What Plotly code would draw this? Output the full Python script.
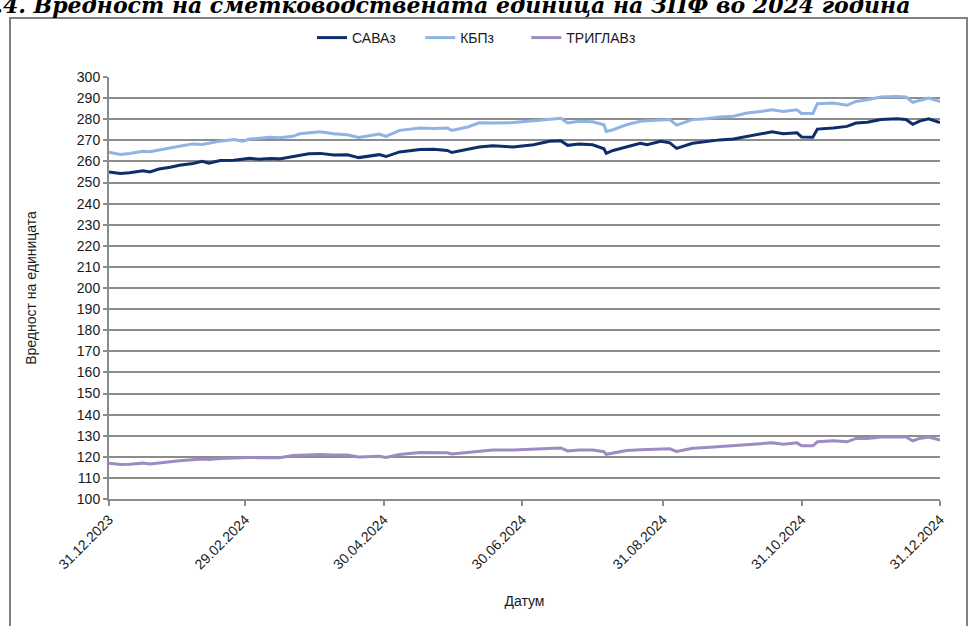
import plotly.graph_objects as go

dates = [
    "2023-12-31", "2024-01-05", "2024-01-09", "2024-01-15", "2024-01-18", "2024-01-22",
    "2024-01-27", "2024-01-31", "2024-02-06", "2024-02-10", "2024-02-13", "2024-02-18",
    "2024-02-24", "2024-02-28", "2024-03-02", "2024-03-06", "2024-03-11", "2024-03-15",
    "2024-03-21", "2024-03-24", "2024-03-28", "2024-04-02", "2024-04-08", "2024-04-14",
    "2024-04-19", "2024-04-28", "2024-05-01", "2024-05-07", "2024-05-16", "2024-05-22",
    "2024-05-28", "2024-05-30", "2024-06-06", "2024-06-11", "2024-06-17", "2024-06-26",
    "2024-07-05", "2024-07-12", "2024-07-17", "2024-07-20", "2024-07-25", "2024-07-31",
    "2024-08-05", "2024-08-06", "2024-08-09", "2024-08-15", "2024-08-21", "2024-08-24",
    "2024-08-30", "2024-09-03", "2024-09-06", "2024-09-13", "2024-09-19", "2024-09-25",
    "2024-10-01", "2024-10-07", "2024-10-13", "2024-10-18", "2024-10-23", "2024-10-29",
    "2024-10-31", "2024-11-05", "2024-11-07", "2024-11-14", "2024-11-20", "2024-11-24",
    "2024-11-29", "2024-12-05", "2024-12-12", "2024-12-16", "2024-12-19", "2024-12-22",
    "2024-12-26", "2024-12-31",
]

sava = [
    255.0, 254.3, 254.6, 255.6, 255.0, 256.4,
    257.2, 258.2, 259.0, 260.0, 259.1, 260.4,
    260.6, 261.1, 261.5, 261.0, 261.4, 261.2,
    262.4, 263.0, 263.6, 263.8, 263.0, 263.1,
    261.8, 263.2, 262.3, 264.5, 265.6, 265.8,
    265.2, 264.2, 265.8, 266.8, 267.4, 266.8,
    267.9, 269.5, 269.8, 267.6, 268.3, 267.9,
    266.0, 263.8, 265.2, 266.8, 268.6, 267.9,
    269.5, 268.8, 266.2, 268.6, 269.5, 270.2,
    270.6, 271.9, 273.1, 274.0, 273.1, 273.6,
    271.6, 271.5, 275.3, 275.8, 276.6, 278.2,
    278.6, 279.9, 280.2, 279.9, 277.6, 279.1,
    280.2, 278.4,
]

kbp = [
    264.3, 263.3, 263.7, 264.8, 264.6, 265.3,
    266.3, 267.2, 268.3, 268.0, 268.6, 269.6,
    270.4, 269.6, 270.6, 270.9, 271.4, 271.2,
    271.9, 273.1, 273.6, 274.1, 273.1, 272.6,
    271.3, 273.0, 271.9, 274.7, 275.8, 275.6,
    275.8, 274.7, 276.3, 278.3, 278.2, 278.4,
    279.3, 279.9, 280.4, 278.2, 279.0, 278.8,
    277.4, 274.2, 275.0, 277.4, 279.0, 279.3,
    279.6, 279.8, 277.2, 279.8, 280.2, 281.1,
    281.4, 282.9, 283.7, 284.5, 283.7, 284.5,
    282.7, 282.7, 287.3, 287.7, 286.6, 288.4,
    289.2, 290.5, 290.8, 290.5, 288.0, 289.0,
    290.0, 288.4,
]

triglav = [
    116.9, 116.4, 116.5, 117.0, 116.6, 117.2,
    117.6, 118.1, 118.6, 118.9, 118.7, 119.2,
    119.4, 119.6, 119.7, 119.6, 119.7, 119.6,
    120.6, 120.8, 121.1, 121.1, 120.9, 120.8,
    119.9, 120.3, 119.7, 121.1, 122.0, 121.9,
    121.9, 121.3, 122.0, 122.6, 123.2, 123.2,
    123.5, 124.0, 124.2, 122.8, 123.2, 123.2,
    122.4, 121.2, 121.9, 123.0, 123.4, 123.5,
    124.0, 123.8, 122.5, 124.0, 124.4, 124.8,
    125.1, 125.8, 126.2, 126.6, 126.0, 126.6,
    125.2, 125.2, 127.1, 127.6, 127.1, 128.7,
    128.7, 129.4, 129.4, 129.4, 127.6, 128.7,
    129.4, 127.9,
]

series_names = ["САВАз", "КБПз", "ТРИГЛАВз"]
series_colors = ["#0E2D6B", "#8EB4E3", "#9E8BC2"]
legend_pad = [5, 7, 0]  # extra spacing after each legend entry

tick_dates = ["2023-12-31", "2024-02-29", "2024-04-30", "2024-06-30",
              "2024-08-31", "2024-10-31", "2024-12-31"]
tick_labels = ["31.12.2023", "29.02.2024", "30.04.2024", "30.06.2024",
               "31.08.2024", "31.10.2024", "31.12.2024"]

title_text = "1.4. Вредност на сметководствената единица на ЗПФ во 2024 година"

W, H = 971, 626
L, R, T, B = 109, 31, 77, 127
pw, ph = W - L - R, H - T - B

def px_x(x):
    return (x - L) / pw

def px_y(y):
    return (H - B - y) / ph

fig = go.Figure()
for name, vals, col, pad in zip(series_names, [sava, kbp, triglav], series_colors, legend_pad):
    fig.add_trace(go.Scatter(x=dates, y=vals, name=name + "\u00a0" * pad, mode="lines",
                             line=dict(color=col, width=3)))

font_family = "Liberation Sans, Arial, sans-serif"
grid_col = "#8C8C8C"

fig.update_layout(
    width=W, height=H,
    margin=dict(l=L, r=R, t=T, b=B, pad=0),
    paper_bgcolor="white", plot_bgcolor="white",
    font=dict(family=font_family, size=14, color="#1a1a1a"),
    showlegend=True,
    legend=dict(orientation="h", x=px_x(312), xanchor="left", y=px_y(38), yanchor="middle",
                font=dict(size=14), itemwidth=30, bgcolor="rgba(0,0,0,0)"),
    xaxis=dict(type="date", range=["2023-12-31", "2024-12-31"],
               tickmode="array", tickvals=tick_dates, ticktext=tick_labels,
               tickangle=-45, ticks="outside", ticklen=5, tickcolor=grid_col, tickwidth=2,
               showline=True, linecolor=grid_col, linewidth=2, showgrid=False, zeroline=False,
               tickfont=dict(size=14),
               title=dict(text="Датум", font=dict(size=14), standoff=25)),
    yaxis=dict(range=[100, 300], dtick=10, tick0=100,
               ticks="outside", ticklen=4, tickcolor=grid_col, tickwidth=2,
               showline=True, linecolor=grid_col, linewidth=2,
               showgrid=True, gridcolor=grid_col, gridwidth=1.5, zeroline=False,
               tickfont=dict(size=14),
               title=dict(text="Вредност на единицата", font=dict(size=14), standoff=37)),
)

# outer chart border
fig.add_shape(type="rect", xref="paper", yref="paper",
              x0=px_x(10), x1=px_x(967), y0=px_y(640), y1=px_y(18),
              line=dict(color="#808080", width=2), fillcolor="rgba(0,0,0,0)", layer="below")

# clipped title at the top
fig.add_annotation(text="<b><i>" + title_text + "</i></b>", xref="paper", yref="paper",
                   x=px_x(-22), y=px_y(20), xanchor="left", yanchor="bottom",
                   showarrow=False,
                   font=dict(family="DejaVu Serif, serif", size=22, color="#000000"))

fig.write_html("out.html", config={"displayModeBar": False},
               post_script="document.body.style.margin='0px';")
